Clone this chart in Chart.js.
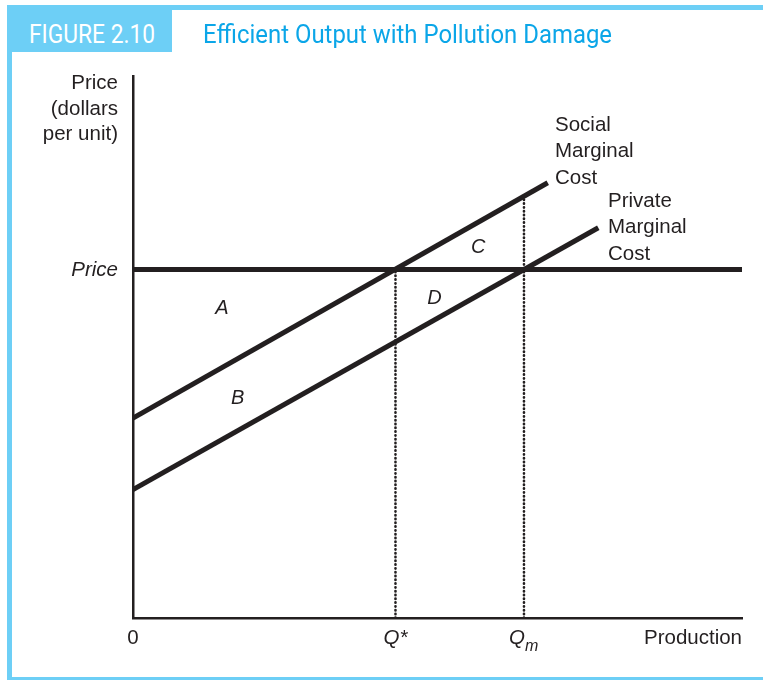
<!DOCTYPE html>
<html>
<head>
<meta charset="utf-8">
<script src="https://cdn.jsdelivr.net/npm/chart.js@4/dist/chart.umd.min.js"></script>
<style>
  html, body { margin: 0; padding: 0; background: #fff; }
  #wrap { position: relative; width: 763px; height: 680px; overflow: hidden; }
  #c { position: absolute; left: 0; top: 0; }
  .bar { position: absolute; background: #6dcff6; }
  #figbox { position: absolute; left: 12px; top: 10px; width: 160px; height: 42px; background: #6dcff6; }
  .cond { position: absolute; font-family: Roboto, "Liberation Sans", sans-serif; font-size: 25px; line-height: 25px; white-space: nowrap; transform-origin: 0 0; }
  #figtxt { color: #ffffff; left: 29px; top: 22px; }
  #title { color: #0ba6e8; left: 203px; top: 22px; }
</style>
</head>
<body>
<div id="wrap">
  <canvas id="c" width="763" height="680"></canvas>
  <div class="bar" style="left:7px; top:5px; width:756px; height:5px;"></div>
  <div class="bar" style="left:7px; top:5px; width:5px; height:675px;"></div>
  <div class="bar" style="left:7px; top:677px; width:756px; height:3px;"></div>
  <div id="figbox"></div>
  <div id="figtxt" class="cond">FIGURE 2.10</div>
  <div id="title" class="cond">Efficient Output with Pollution Damage</div>
</div>
<script>
// ---- data (arbitrary units 0-100) ----
const priceLevel = 64.3;
const socialMCx = [0, 68.1];
const socialMCy = [36.9, 80.3];
const privateMCx = [0, 76.4];
const privateMCy = [23.7, 72.0];
const qStar = 43.1;
const qM = 64.2;
const socialAtQm = 77.8;
const areaNames = ['A', 'B', 'C', 'D'];
const areaX = [14.6, 17.2, 56.7, 49.5];
const areaY = [57.2, 40.6, 68.3, 58.9];
const xTickLabels = ['0', 'Q*', 'Q'];
const xTickValues = [0, qStar, qM];

// fit condensed header text widths
function fitWidth(id, w) {
  const el = document.getElementById(id);
  const r = el.getBoundingClientRect().width;
  el.style.transform = 'scaleX(' + (w / r) + ')';
}
fitWidth('figtxt', 126);
fitWidth('title', 409);

const INK = '#231f20';
const toPts = (xs, ys) => xs.map((x, i) => ({ x: x, y: ys[i] }));

const labelPlugin = {
  id: 'labels',
  afterDraw(chart) {
    const ctx = chart.ctx;
    const xs = chart.scales.x, ys = chart.scales.y;
    const ca = chart.chartArea;
    ctx.save();
    ctx.fillStyle = INK;
    const reg = '20.5px "Liberation Sans", Arial, sans-serif';
    const ital = 'italic 20.5px "Liberation Sans", Arial, sans-serif';
    ctx.textBaseline = 'alphabetic';

    // y-axis title
    ctx.font = reg;
    ctx.textAlign = 'right';
    ['Price', '(dollars', 'per unit)'].forEach((t, i) => ctx.fillText(t, ca.left - 15, 89 + i * 25.5));
    // y tick: Price
    ctx.font = ital;
    ctx.fillText('Price', ca.left - 15, ys.getPixelForValue(priceLevel) + 7);

    // x ticks
    const base = ca.bottom + 26;
    ctx.textAlign = 'center';
    ctx.font = reg;
    ctx.fillText(xTickLabels[0], xs.getPixelForValue(xTickValues[0]), base);
    ctx.font = ital;
    ctx.fillText(xTickLabels[1], xs.getPixelForValue(xTickValues[1]), base);
    const qx = xs.getPixelForValue(xTickValues[2]);
    ctx.textAlign = 'right';
    ctx.fillText(xTickLabels[2], qx + 1, base);
    ctx.textAlign = 'left';
    ctx.font = 'italic 16px "Liberation Sans", Arial, sans-serif';
    ctx.fillText('m', qx + 1, base + 7);
    ctx.font = reg;
    ctx.textAlign = 'right';
    ctx.fillText('Production', ca.right, base);

    // curve labels
    ctx.textAlign = 'left';
    ['Social', 'Marginal', 'Cost'].forEach((t, i) => ctx.fillText(t, 555, 131 + i * 26.3));
    ['Private', 'Marginal', 'Cost'].forEach((t, i) => ctx.fillText(t, 608, 207 + i * 26.3));

    // area labels
    ctx.font = 'italic 20px "Liberation Sans", Arial, sans-serif';
    ctx.textAlign = 'center';
    ctx.textBaseline = 'middle';
    areaNames.forEach((n, i) => ctx.fillText(n, xs.getPixelForValue(areaX[i]), ys.getPixelForValue(areaY[i])));
    ctx.restore();
  }
};

const dotted = { borderWidth: 2.6, borderDash: [0.4, 3.4], borderCapStyle: 'round' };

new Chart(document.getElementById('c'), {
  type: 'scatter',
  data: {
    datasets: [
      { label: 'Price', data: [{ x: 0, y: priceLevel }, { x: 100, y: priceLevel }], borderColor: INK, borderWidth: 5 },
      { label: 'Social Marginal Cost', data: toPts(socialMCx, socialMCy), borderColor: INK, borderWidth: 5 },
      { label: 'Private Marginal Cost', data: toPts(privateMCx, privateMCy), borderColor: INK, borderWidth: 5 },
      Object.assign({ label: 'Q*', data: [{ x: qStar, y: 0 }, { x: qStar, y: priceLevel }], borderColor: INK }, dotted),
      Object.assign({ label: 'Qm', data: [{ x: qM, y: 0 }, { x: qM, y: socialAtQm }], borderColor: INK }, dotted)
    ].map(d => Object.assign({ showLine: true, pointRadius: 0, pointHoverRadius: 0, borderCapStyle: 'butt', fill: false }, d))
  },
  options: {
    responsive: false,
    animation: false,
    events: [],
    layout: { padding: { left: 133, top: 76, right: 21, bottom: 62 } },
    plugins: { legend: { display: false }, tooltip: { enabled: false } },
    scales: {
      x: {
        type: 'linear', min: 0, max: 100,
        grid: { display: false, drawTicks: false },
        ticks: { display: false },
        border: { display: true, color: INK, width: 2.5 }
      },
      y: {
        type: 'linear', min: 0, max: 100,
        grid: { display: false, drawTicks: false },
        ticks: { display: false },
        border: { display: true, color: INK, width: 2.5 }
      }
    }
  },
  plugins: [labelPlugin]
});
</script>
</body>
</html>
